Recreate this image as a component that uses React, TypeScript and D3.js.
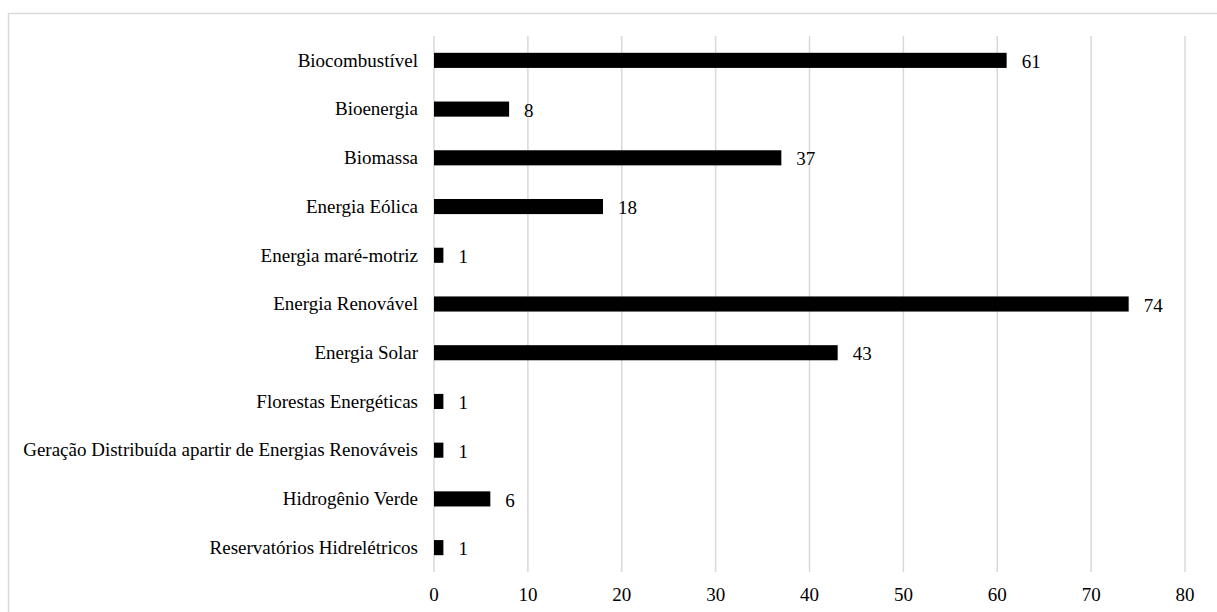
import React from "react";
import * as d3 from "d3";

const categories = [
  "Biocombustível",
  "Bioenergia",
  "Biomassa",
  "Energia Eólica",
  "Energia maré-motriz",
  "Energia Renovável",
  "Energia Solar",
  "Florestas Energéticas",
  "Geração Distribuída apartir de Energias Renováveis",
  "Hidrogênio Verde",
  "Reservatórios Hidrelétricos",
];
const values = [61, 8, 37, 18, 1, 74, 43, 1, 1, 6, 1];
const xTicks = [0, 10, 20, 30, 40, 50, 60, 70, 80];

export default function App() {
  const W = 1217, H = 612;
  const x = d3.scaleLinear().domain([0, 80]).range([434, 1185]);
  const y = d3.scaleBand().domain(categories).range([36, 572]).paddingInner(0.69).paddingOuter(0.345);
  const ts = { fontFamily: "Times New Roman", fontSize: "19px" };
  return (
    <svg width={W} height={H} style={{ position: "absolute", left: 0, top: 0, fontFamily: "Times New Roman" }}>
      <rect x={0} y={0} width={W} height={H} fill="#fff" />
      <rect x={8.5} y={13.5} width={1230} height={620} fill="none" stroke="#d9d9d9" strokeWidth={1.5} />
      {xTicks.map((t) => (
        <line key={t} x1={x(t)} x2={x(t)} y1={36} y2={572} stroke="#d9d9d9" strokeWidth={1.5} />
      ))}
      {xTicks.map((t) => (
        <text key={"t" + t} x={x(t)} y={601} textAnchor="middle" style={ts} fill="#000">
          {t}
        </text>
      ))}
      {categories.map((c, i) => {
        const yy = y(c)!;
        const bw = y.bandwidth();
        return (
          <g key={c}>
            <rect x={x(0)} y={yy} width={x(values[i]) - x(0)} height={bw} fill="#000" />
            <text x={418} y={yy + bw / 2} dy="0.33em" textAnchor="end" style={ts} fill="#000">
              {c}
            </text>
            <text x={x(values[i]) + 15} y={yy + bw / 2} dy="0.4em" textAnchor="start" style={ts} fill="#000">
              {values[i]}
            </text>
          </g>
        );
      })}
    </svg>
  );
}
